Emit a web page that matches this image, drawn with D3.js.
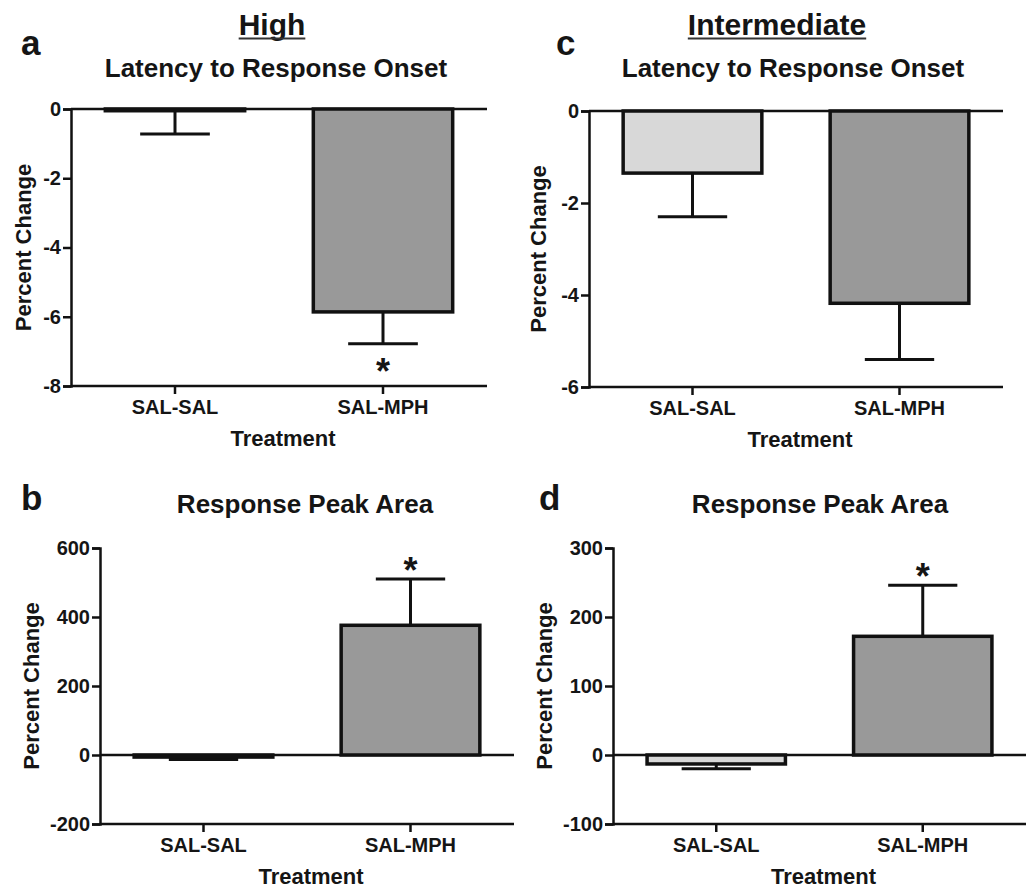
<!DOCTYPE html>
<html>
<head>
<meta charset="utf-8">
<script src="https://cdn.jsdelivr.net/npm/d3@7"></script>
<style>
  body { margin: 0; background: #fff; }
  text { font-family: "Liberation Sans", Arial, sans-serif; font-weight: bold; fill: #151515; }
</style>
</head>
<body>
<svg id="fig" width="1026" height="889"></svg>
<script>
// groups on the x axis
var treatments = ["SAL-SAL", "SAL-MPH"];

// a: High, latency to response onset (% change, mean and SEM)
var latHighMean = [-0.05, -5.86];
var latHighSem  = [0.67, 0.92];
// c: Intermediate, latency to response onset
var latInterMean = [-1.35, -4.18];
var latInterSem  = [0.95, 1.22];
// b: High, response peak area
var areaHighMean = [-6, 376];
var areaHighSem  = [7, 134];
// d: Intermediate, response peak area
var areaInterMean = [-13, 172];
var areaInterSem  = [7, 74];

var latHighTicks  = [0, -2, -4, -6, -8];
var latInterTicks = [0, -2, -4, -6];
var areaHighTicks  = [-200, 0, 200, 400, 600];
var areaInterTicks = [-100, 0, 100, 200, 300];

var barFill = ["#d8d8d8", "#999999"];

var svg_canvas = d3.select("#fig");

// column headers
function header(label, cx) {
   var t = svg_canvas.append("text")
      .attr("x", cx).attr("y", 35)
      .attr("text-anchor", "middle")
      .style("font-size", "30px")
      .text(label);
   var w = t.node().getComputedTextLength();
   svg_canvas.append("line")
      .attr("x1", cx - w / 2).attr("x2", cx + w / 2)
      .attr("y1", 38.5).attr("y2", 38.5)
      .attr("stroke", "#333").attr("stroke-width", 2);
}
header("High", 272);
header("Intermediate", 777);

function panel(p) {
   var g = svg_canvas.append("g");
   var x = d3.scaleBand().domain(treatments)
      .range(p.xr).paddingInner(0.33).paddingOuter(0.165);
   var y = d3.scaleLinear().domain(p.dom).range(p.yr);

   g.append("text").attr("x", p.letter[0]).attr("y", p.letter[1])
      .style("font-size", "35px").text(p.id);
   g.append("text").attr("x", p.tx).attr("y", p.ty)
      .attr("text-anchor", "middle").style("font-size", "26px")
      .text(p.title);

   // zero line across the plot
   g.append("line")
      .attr("x1", p.xr[0]).attr("x2", p.xr[1])
      .attr("y1", y(0)).attr("y2", y(0))
      .attr("stroke", "#111").attr("stroke-width", 2.5);

   // error bars (drawn first so the bar outline sits on top)
   var eb = g.selectAll("g.err").data(treatments).enter().append("g").attr("class", "err");
   eb.append("line")
      .attr("x1", function(d) { return x(d) + x.bandwidth() / 2; })
      .attr("x2", function(d) { return x(d) + x.bandwidth() / 2; })
      .attr("y1", function(d, i) { return y(p.mean[i]); })
      .attr("y2", function(d, i) { var m = p.mean[i]; return y(m < 0 ? m - p.sem[i] : m + p.sem[i]); })
      .attr("stroke", "#111").attr("stroke-width", 3);
   eb.append("line")
      .attr("x1", function(d) { return x(d) + x.bandwidth() * 0.25; })
      .attr("x2", function(d) { return x(d) + x.bandwidth() * 0.75; })
      .attr("y1", function(d, i) { var m = p.mean[i]; return y(m < 0 ? m - p.sem[i] : m + p.sem[i]); })
      .attr("y2", function(d, i) { var m = p.mean[i]; return y(m < 0 ? m - p.sem[i] : m + p.sem[i]); })
      .attr("stroke", "#111").attr("stroke-width", 3);

   g.selectAll("rect.bar").data(treatments).enter().append("rect")
      .attr("class", "bar")
      .attr("x", function(d) { return x(d); })
      .attr("width", x.bandwidth())
      .attr("y", function(d, i) { return y(Math.max(0, p.mean[i])); })
      .attr("height", function(d, i) { return Math.abs(y(p.mean[i]) - y(0)); })
      .attr("fill", function(d, i) { return barFill[i]; })
      .attr("stroke", "#111").attr("stroke-width", 3.5);

   // significance star
   if (p.sig) {
      var m = p.mean[1], e = m < 0 ? m - p.sem[1] : m + p.sem[1];
      g.append("text")
         .attr("x", x(treatments[1]) + x.bandwidth() / 2)
         .attr("y", m < 0 ? y(e) + 40 : y(e) + 4)
         .attr("text-anchor", "middle").style("font-size", "36px")
         .text("*");
   }

   // axes
   var ya = g.append("g").attr("transform", "translate(" + p.xr[0] + ",0)")
      .call(d3.axisLeft(y).tickValues(p.ticks).tickSize(8).tickPadding(2)
         .tickFormat(function(d) { return String(d); }));
   var xa = g.append("g").attr("transform", "translate(0," + p.yr[0] + ")")
      .call(d3.axisBottom(x).tickSize(8).tickPadding(6));
   [ya, xa].forEach(function(a) {
      a.select(".domain").attr("stroke", "#111").attr("stroke-width", 2.5);
      a.selectAll(".tick line").attr("stroke", "#111").attr("stroke-width", 2.5);
      a.selectAll(".tick text").style("font-size", "20px").attr("fill", "#151515")
         .style("font-family", "'Liberation Sans', Arial, sans-serif");
   });
   xa.select(".domain").attr("d", "M" + p.xr[0] + ",0H" + p.xr[1]);

   g.append("text")
      .attr("x", (p.xr[0] + p.xr[1]) / 2 + 4).attr("y", p.yr[0] + 60)
      .attr("text-anchor", "middle").style("font-size", "22px")
      .text("Treatment");
   g.append("text")
      .attr("transform", "translate(" + p.ylx + "," + (p.yr[0] + p.yr[1]) / 2 + ") rotate(-90)")
      .attr("text-anchor", "middle").style("font-size", "22px")
      .text("Percent Change");
}

panel({ id: "a", letter: [21, 55], title: "Latency to Response Onset", tx: 276, ty: 77,
   xr: [71, 487], yr: [386, 109], dom: [-8, 0], ticks: latHighTicks,
   mean: latHighMean, sem: latHighSem, ylx: 31, sig: true });
panel({ id: "c", letter: [556, 55], title: "Latency to Response Onset", tx: 793, ty: 77,
   xr: [589, 1003], yr: [387, 111], dom: [-6, 0], ticks: latInterTicks,
   mean: latInterMean, sem: latInterSem, ylx: 546, sig: false });
panel({ id: "b", letter: [21, 510], title: "Response Peak Area", tx: 305, ty: 513,
   xr: [100, 514], yr: [824, 548], dom: [-200, 600], ticks: areaHighTicks,
   mean: areaHighMean, sem: areaHighSem, ylx: 39, sig: true });
panel({ id: "d", letter: [539, 510], title: "Response Peak Area", tx: 820, ty: 513,
   xr: [613, 1026], yr: [824, 548], dom: [-100, 300], ticks: areaInterTicks,
   mean: areaInterMean, sem: areaInterSem, ylx: 552, sig: true });
</script>
</body>
</html>
